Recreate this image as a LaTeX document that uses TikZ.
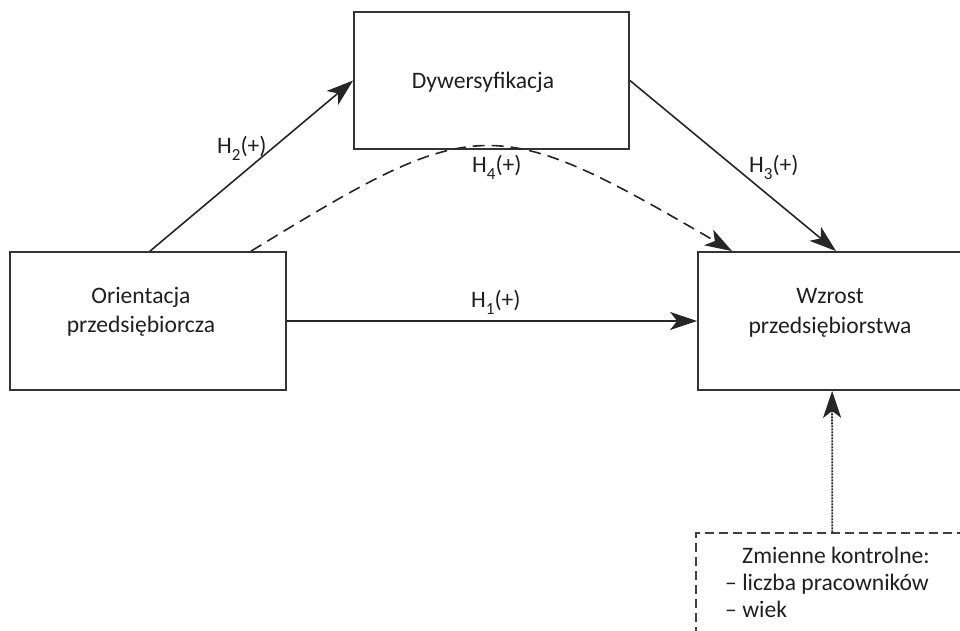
\documentclass[tikz,border=0pt]{standalone}
\usepackage{fontspec}
\setmainfont{Carlito}
\usetikzlibrary{arrows.meta}
\newcommand\hypo[1]{H\raisebox{-7pt}{\fontsize{17}{17}\selectfont #1}(+)}
\begin{document}
\begin{tikzpicture}[x=1pt,y=-1pt,
  box/.style={draw=black!80, line width=1.8pt, inner sep=0pt},
  dbox/.style={draw=black!75, line width=1.5pt, dash pattern=on 9pt off 5pt, inner sep=0pt},
  txt/.style={text=black!88, font=\fontsize{23.6}{29.5}\selectfont, align=center, inner sep=0pt},
  lbl/.style={text=black!88, font=\fontsize{23.6}{28}\selectfont, inner sep=0pt, anchor=base west},
  arr/.style={draw=black!85, line width=1.6pt, -{Stealth[length=27pt,width=18pt,inset=7pt]}},
  darr/.style={arr, dash pattern=on 12pt off 7pt},
  oarr/.style={arr, line width=1.8pt, dash pattern=on 2pt off 1pt}
]
\useasboundingbox (0,0) rectangle (960,630);

\node[box, minimum width=276pt, minimum height=138pt] (orient) at (148,321) {};
\node[box, minimum width=275pt, minimum height=137pt] (dyw) at (491.5,80.5) {};
\node[box, minimum width=292pt, minimum height=138pt] (wz) at (844,321) {};
\node[dbox, minimum width=294pt, minimum height=130pt] (ctrl) at (843,598) {};

\node[txt] (t1) at (141,312) {Orientacja\\przedsiębiorcza};
\node[txt, anchor=base] (t2) at (483,88) {Dywersyfikacja};
\node[txt] (t3) at (830,313) {Wzrost\\przedsiębiorstwa};
\node[txt, align=left, anchor=north west, font=\fontsize{23.6}{27}\selectfont] (t4) at (725,546.5)
  {\hspace*{17pt}Zmienne kontrolne:\\– liczba pracowników\\– wiek};

\draw[arr] ([xshift=2pt]orient.north) -- (dyw.west);
\draw[arr] (dyw.east) -- ([xshift=139pt]wz.north west);
\draw[arr] (orient.east) -- (wz.west);
\draw[darr] ([xshift=242pt]orient.north west) .. controls (477,113) and (492,111) .. ([xshift=35pt]wz.north west);
\draw[oarr] ([xshift=137pt]ctrl.north west) -- ([xshift=135pt]wz.south west);

\node[lbl] (h2) at (217,153) {\hypo{2}};
\node[lbl] (h4) at (472,172) {\hypo{4}};
\node[lbl] (h3) at (749,172) {\hypo{3}};
\node[lbl] (h1) at (471,307) {\hypo{1}};
\end{tikzpicture}
\end{document}
